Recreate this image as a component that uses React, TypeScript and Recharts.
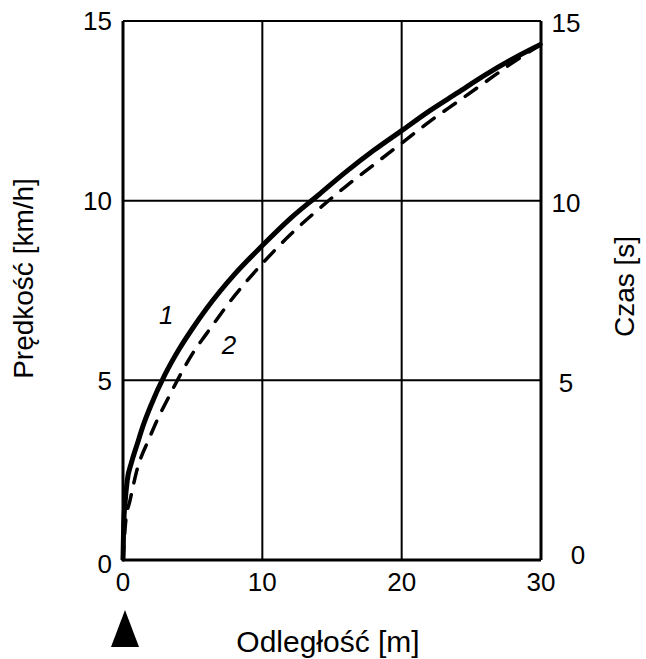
import { CartesianGrid, Label, Line, LineChart, ReferenceDot, XAxis, YAxis } from "recharts";

// curve 1 (solid) and curve 2 (dashed): distance [m] vs speed [km/h]
const solidX = [0, 0.05, 0.15, 0.3, 0.6, 1, 1.5, 2, 3, 4, 5, 6, 8, 10, 12, 14, 16, 18, 20, 22, 24, 26, 28, 30];
const solidY = [0, 1.0, 1.6, 2.2, 2.7, 3.2, 3.8, 4.3, 5.15, 5.85, 6.45, 7.0, 7.95, 8.75, 9.5, 10.15, 10.8, 11.4, 11.95, 12.5, 13.0, 13.5, 13.95, 14.35];
const dashedX = [0, 0.2, 0.5, 1, 1.9, 2.4, 3.3, 3.9, 5, 6, 8, 10, 12, 14, 16, 18, 20, 22, 24, 26, 28, 30];
const dashedY = [0, 1.1, 1.65, 2.5, 3.4, 3.85, 4.55, 5.0, 5.75, 6.3, 7.35, 8.25, 9.05, 9.75, 10.4, 11.0, 11.6, 12.2, 12.75, 13.3, 13.85, 14.35];

const xTicks = [0, 10, 20, 30];
const yTicks = [0, 5, 10, 15];

const FONT = "'Liberation Sans', Arial, sans-serif";
const TICK_SIZE = 26;
const TITLE_SIZE = 28;

const solid = solidX.map((x, i) => ({ x, v: solidY[i] }));
const dashed = dashedX.map((x, i) => ({ x, v: dashedY[i] }));

// left ticks: right-aligned, the "0" sits a little low
function LeftTick(props: any) {
  const { x, y, payload } = props;
  return (
    <text x={x} y={y + (payload.value === 0 ? 4 : 0)} dy="0.355em" textAnchor="end" fontSize={TICK_SIZE} fontFamily={FONT} fill="#000">
      {payload.value}
    </text>
  );
}

// right ticks: centred, the "0" is pushed up and out past the corner
function RightTick(props: any) {
  const { x, y, payload } = props;
  const isZero = payload.value === 0;
  return (
    <text x={x + (isZero ? 12 : 0)} y={y + (isZero ? -5 : 2)} dy="0.355em" textAnchor="middle" fontSize={TICK_SIZE} fontFamily={FONT} fill="#000">
      {payload.value}
    </text>
  );
}

const numLabel = (value: string) => ({
  value,
  position: "center" as const,
  fontSize: TICK_SIZE,
  fontStyle: "italic",
  fontFamily: FONT,
  fill: "#000",
});

export default function App() {
  return (
    <div style={{ position: "absolute", left: 0, top: 0, background: "#fff" }}>
      <LineChart width={646} height={659} margin={{ top: 21, right: 0, bottom: 0, left: 0 }}>
        <CartesianGrid yAxisId="left" stroke="#000" strokeWidth={2} />
        <XAxis
          type="number"
          dataKey="x"
          domain={[0, 30]}
          ticks={xTicks}
          height={99}
          tickSize={0}
          tickMargin={13}
          axisLine={{ stroke: "#000", strokeWidth: 3 }}
          tickLine={false}
          tick={{ fill: "#000", fontSize: TICK_SIZE, fontFamily: FONT }}
        >
          <Label
            content={(props: any) => {
              const vb = props.viewBox;
              const x0 = vb.x + 2;
              return (
                <g>
                  <path d={`M ${x0 - 14} 647 L ${x0 + 14} 647 L ${x0} 610 Z`} fill="#000" />
                  <text x={vb.x + vb.width / 2 - 4} y={652} textAnchor="middle" fontSize={30} fontFamily={FONT} fill="#000">
                    Odległość [m]
                  </text>
                </g>
              );
            }}
          />
        </XAxis>
        <YAxis
          yAxisId="left"
          domain={[0, 15]}
          ticks={yTicks}
          width={123}
          tickSize={0}
          tickMargin={11}
          axisLine={{ stroke: "#000", strokeWidth: 3 }}
          tickLine={false}
          tick={<LeftTick />}
        >
          <Label
            content={(props: any) => {
              const vb = props.viewBox;
              const cy = vb.y + vb.height / 2 - 12;
              const cx = 33;
              return (
                <text x={cx} y={cy} transform={`rotate(-90 ${cx} ${cy})`} textAnchor="middle" fontSize={TITLE_SIZE} fontFamily={FONT} fill="#000">
                  Prędkość [km/h]
                </text>
              );
            }}
          />
        </YAxis>
        <YAxis
          yAxisId="right"
          orientation="right"
          domain={[0, 15]}
          ticks={yTicks}
          width={105}
          tickSize={0}
          tickMargin={25}
          axisLine={{ stroke: "#000", strokeWidth: 3 }}
          tickLine={false}
          tick={<RightTick />}
        >
          <Label
            content={(props: any) => {
              const vb = props.viewBox;
              const cy = vb.y + vb.height / 2 - 4;
              const cx = 634;
              return (
                <text x={cx} y={cy} transform={`rotate(-90 ${cx} ${cy})`} textAnchor="middle" fontSize={TITLE_SIZE} fontFamily={FONT} fill="#000">
                  Czas [s]
                </text>
              );
            }}
          />
        </YAxis>
        {/* invisible series so the right-hand axis gets drawn */}
        <Line
          yAxisId="right"
          data={solid}
          dataKey="v"
          stroke="none"
          dot={false}
          activeDot={false}
          legendType="none"
          isAnimationActive={false}
        />
        <Line
          yAxisId="left"
          data={dashed}
          dataKey="v"
          type="monotone"
          stroke="#000"
          strokeWidth={3.5}
          strokeDasharray="14 12"
          strokeLinecap="round"
          dot={false}
          isAnimationActive={false}
        />
        <Line
          yAxisId="left"
          data={solid}
          dataKey="v"
          type="monotone"
          stroke="#000"
          strokeWidth={5}
          dot={false}
          isAnimationActive={false}
        />
        <ReferenceDot yAxisId="left" x={3.1} y={6.82} r={0} fill="none" stroke="none" label={numLabel("1")} />
        <ReferenceDot yAxisId="left" x={7.6} y={5.98} r={0} fill="none" stroke="none" label={numLabel("2")} />
      </LineChart>
    </div>
  );
}
